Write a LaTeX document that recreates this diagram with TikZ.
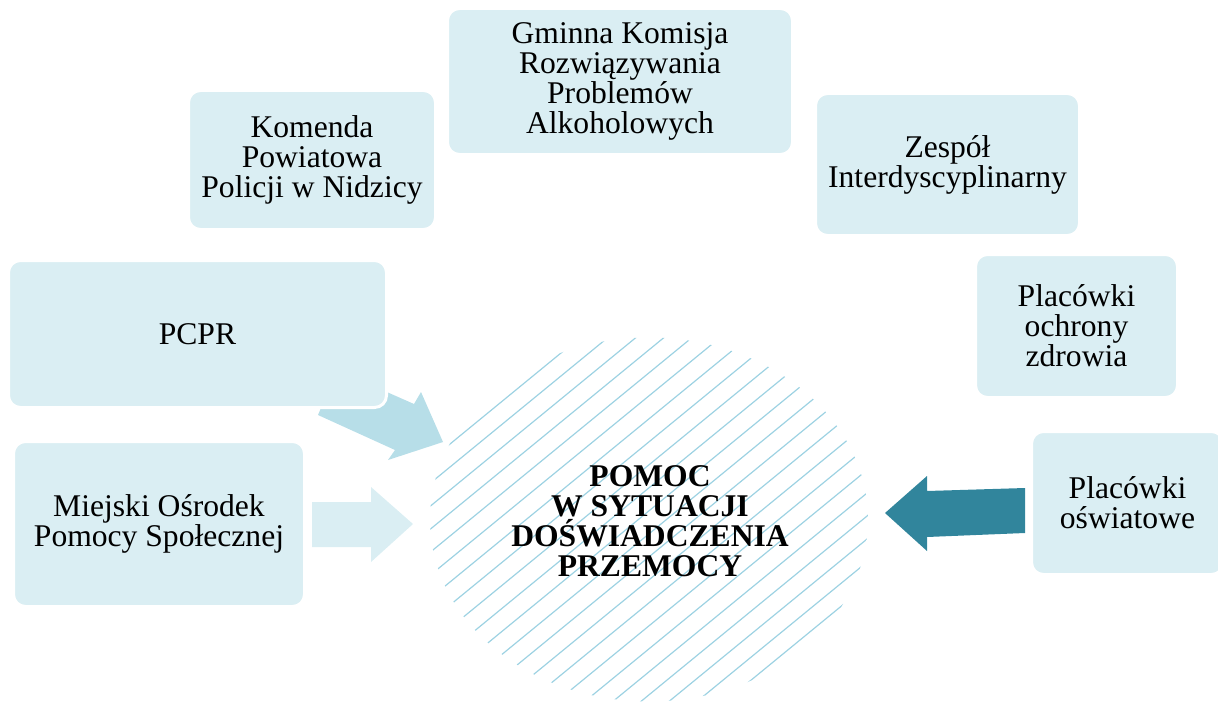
\documentclass[tikz,border=0pt]{standalone}
\usepackage{fontspec}
\setmainfont{Liberation Serif}
\definecolor{boxblue}{HTML}{DAEEF3}
\definecolor{arrowmid}{HTML}{B7DEE8}
\definecolor{arrowteal}{HTML}{31859C}
\definecolor{hatchblue}{HTML}{9DD2E2}
\begin{document}
\begin{tikzpicture}[x=0.5pt,y=-0.5pt,
  box/.style={rectangle, rounded corners=6pt, fill=boxblue, draw=white, line width=1.5pt,
    align=center, inner sep=0pt, font=\fontsize{15.8pt}{15pt}\selectfont},
  centre/.style={align=center, inner sep=0pt, font=\fontsize{15.8pt}{15pt}\selectfont\bfseries},
  hatch/.style={draw=hatchblue, line width=0.6pt},
  blockarrow/.style={draw=none}]
\useasboundingbox (0,0) rectangle (1218,706);

% hatched ellipse
\begin{scope}
  \clip (649,519.5) ellipse [x radius=109.5pt, y radius=91pt];
  \foreach \k in {0,...,24} {
    \draw[hatch] (380,{790+23*\k-0.82*380}) -- (900,{790+23*\k-0.82*900});
  }
\end{scope}

% block arrows
\fill[arrowmid] (318,415) -- (337,370) -- (414,404) -- (421,392) -- (443,442)
  -- (388,460) -- (395,450) -- cycle;
\fill[boxblue] (312,502) -- (371,502) -- (371,487) -- (413,524) -- (371,562)
  -- (371,547) -- (312,547) -- cycle;
\fill[arrowteal] (1025,488) -- (927,491) -- (927,476) -- (885,513) -- (927,551)
  -- (927,537) -- (1025,533) -- cycle;

% boxes
\node[box, minimum width=123.5pt, minimum height=69.5pt] (komenda) at (312,160)
  {Komenda\\Powiatowa\\Policji w Nidzicy};
\node[box, minimum width=172.5pt, minimum height=73pt] (gminna) at (620,81.5)
  {Gminna Komisja\\Rozwiązywania\\Problemów\\Alkoholowych};
\node[box, minimum width=132pt, minimum height=71pt] (zespol) at (947.5,164.5)
  {Zespół\\Interdyscyplinarny};
\node[box, minimum width=189pt, minimum height=73.5pt] (pcpr) at (197.5,334)
  {PCPR};
\node[box, minimum width=101pt, minimum height=71.5pt] (ochrona) at (1076.5,326)
  {Placówki\\ochrony\\zdrowia};
\node[box, minimum width=145.5pt, minimum height=82.5pt] (mops) at (159,524)
  {Miejski Ośrodek\\Pomocy Społecznej};
\node[box, minimum width=96pt, minimum height=71.5pt] (oswiata) at (1127.5,503)
  {Placówki\\oświatowe};

% centre text
\node[centre] (pomoc) at (650,521.5)
  {POMOC\\W SYTUACJI\\DOŚWIADCZENIA\\PRZEMOCY};
\end{tikzpicture}
\end{document}
